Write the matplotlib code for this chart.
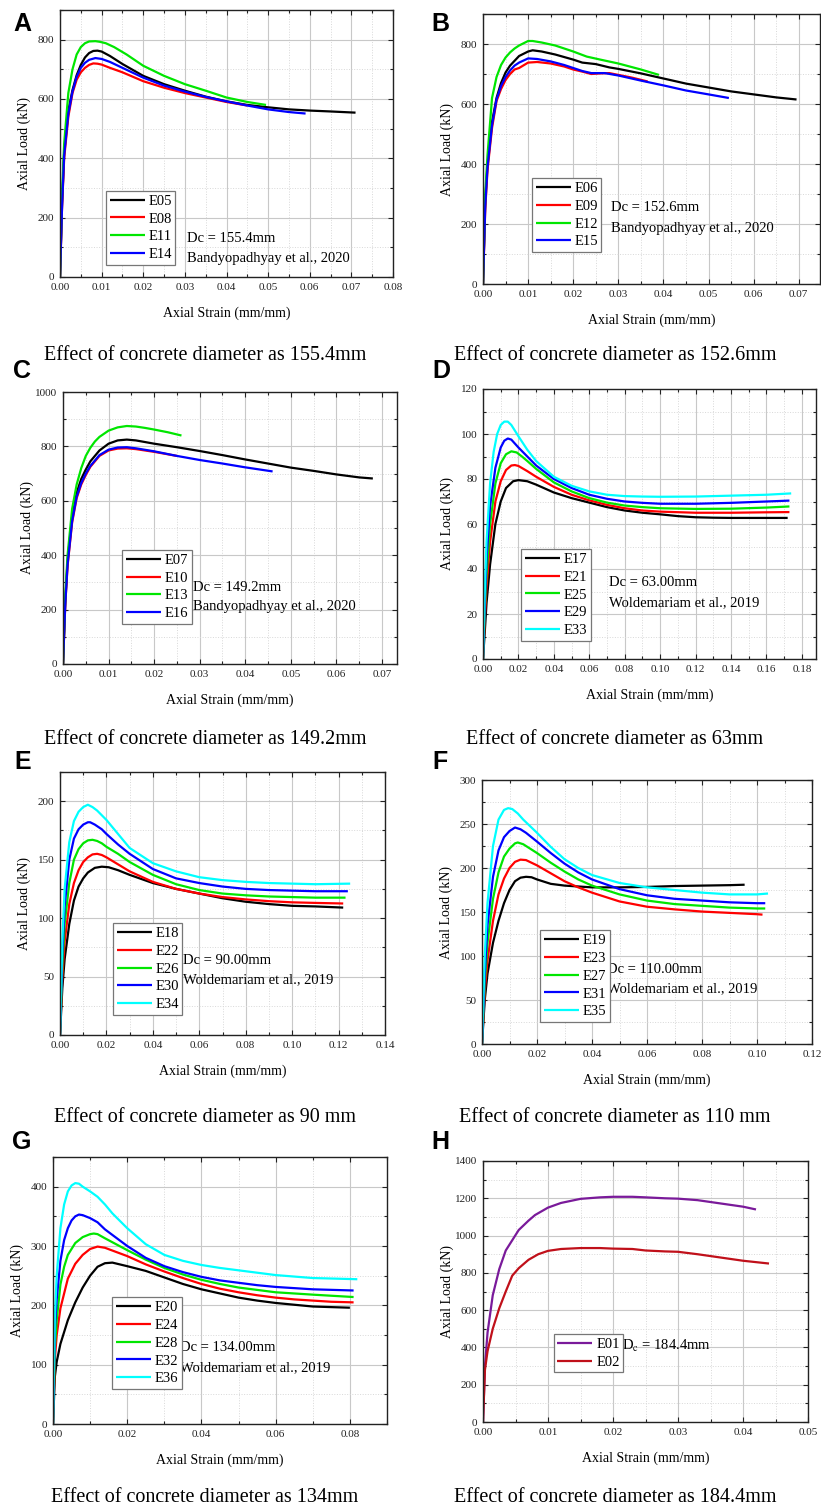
import matplotlib
matplotlib.use('Agg')
import matplotlib.pyplot as plt
from matplotlib.ticker import MultipleLocator, FormatStrFormatter

plt.rcParams['font.family'] = ['Liberation Serif', 'DejaVu Serif']
plt.rcParams['mathtext.fontset'] = 'stix'

FIG_W, FIG_H = 821, 1511   # px

# ---- data (strain mm/mm, load kN) ----
# A: Dc = 155.4mm
e05_x = [0, 0.0005, 0.001, 0.002, 0.003, 0.004, 0.005, 0.006, 0.007, 0.008, 0.009, 0.01, 0.012, 0.015,
         0.02, 0.025, 0.03, 0.035, 0.04, 0.045, 0.05, 0.055, 0.06, 0.065, 0.071]
e05_y = [0, 250, 420, 560, 630, 680, 715, 740, 755, 762, 763, 760, 745, 718,
         678, 650, 628, 608, 592, 580, 572, 565, 561, 558, 554]
e08_x = [0, 0.0005, 0.001, 0.002, 0.003, 0.004, 0.005, 0.006, 0.007, 0.008, 0.009, 0.01, 0.012, 0.015,
         0.02, 0.025, 0.03, 0.035, 0.04, 0.045]
e08_y = [0, 240, 400, 540, 620, 665, 690, 705, 715, 720, 719, 716, 705, 690,
         660, 638, 620, 605, 590, 578]
e11_x = [0, 0.0005, 0.001, 0.002, 0.003, 0.004, 0.005, 0.006, 0.007, 0.0085, 0.0095, 0.011, 0.013, 0.016,
         0.02, 0.025, 0.03, 0.035, 0.04, 0.045, 0.0495]
e11_y = [0, 280, 450, 620, 700, 750, 775, 788, 794, 795, 793, 788, 775, 750,
         712, 678, 650, 628, 605, 590, 580]
e14_x = [0, 0.0005, 0.001, 0.002, 0.003, 0.004, 0.005, 0.006, 0.007, 0.0085, 0.01, 0.012, 0.015,
         0.02, 0.025, 0.03, 0.035, 0.04, 0.045, 0.05, 0.055, 0.059]
e14_y = [0, 240, 410, 550, 625, 675, 705, 722, 732, 738, 735, 725, 705,
         672, 645, 625, 607, 592, 578, 565, 556, 551]

# B: Dc = 152.6mm
e06_x = [0, 0.0005, 0.001, 0.002, 0.003, 0.004, 0.005, 0.006, 0.008, 0.01, 0.011, 0.013, 0.016, 0.02, 0.022,
         0.025, 0.028, 0.03, 0.035, 0.04, 0.045, 0.05, 0.055, 0.06, 0.065, 0.0695]
e06_y = [0, 280, 400, 540, 620, 670, 705, 728, 760, 775, 779, 775, 765, 748, 738,
         733, 722, 717, 702, 685, 668, 655, 642, 632, 622, 615]
e09_x = [0, 0.0005, 0.001, 0.002, 0.003, 0.004, 0.005, 0.006, 0.007, 0.008, 0.01, 0.012, 0.015, 0.018,
         0.02, 0.022, 0.024, 0.026, 0.028, 0.03, 0.033, 0.0365]
e09_y = [0, 250, 380, 520, 610, 650, 680, 700, 715, 720, 738, 740, 735, 725,
         715, 708, 700, 702, 703, 697, 688, 675]
e12_x = [0, 0.0005, 0.001, 0.002, 0.003, 0.004, 0.005, 0.006, 0.007, 0.008, 0.01, 0.011, 0.013, 0.016,
         0.02, 0.023, 0.026, 0.03, 0.035, 0.039]
e12_y = [0, 300, 430, 620, 690, 730, 755, 772, 785, 795, 810, 810, 805, 795,
         775, 758, 748, 735, 715, 697]
e15_x = [0, 0.0005, 0.001, 0.002, 0.003, 0.004, 0.005, 0.006, 0.007, 0.008, 0.01, 0.012, 0.015, 0.018,
         0.02, 0.022, 0.024, 0.027, 0.03, 0.035, 0.04, 0.045, 0.05, 0.0545]
e15_y = [0, 260, 390, 530, 615, 660, 690, 712, 728, 738, 752, 750, 742, 730,
         720, 710, 703, 703, 695, 678, 662, 645, 632, 620]

# C: Dc = 149.2mm
e07_x = [0, 0.0005, 0.001, 0.002, 0.003, 0.004, 0.005, 0.006, 0.008, 0.01, 0.012, 0.014, 0.016, 0.02,
         0.025, 0.03, 0.035, 0.04, 0.045, 0.05, 0.055, 0.06, 0.065, 0.068]
e07_y = [0, 230, 380, 540, 630, 680, 715, 745, 785, 810, 822, 825, 822, 810,
         797, 783, 768, 752, 737, 722, 710, 697, 686, 682]
e10_x = [0, 0.0005, 0.001, 0.002, 0.003, 0.004, 0.005, 0.006, 0.008, 0.01, 0.012, 0.014, 0.016, 0.02, 0.025]
e10_y = [0, 220, 360, 520, 610, 660, 695, 725, 765, 785, 792, 793, 790, 780, 765]
e13_x = [0, 0.0005, 0.001, 0.002, 0.003, 0.004, 0.005, 0.006, 0.007, 0.008, 0.01, 0.012, 0.014, 0.016,
         0.018, 0.02, 0.023, 0.026]
e13_y = [0, 250, 400, 570, 660, 720, 765, 795, 818, 835, 858, 870, 875, 873,
         868, 862, 852, 840]
e16_x = [0, 0.0005, 0.001, 0.002, 0.003, 0.004, 0.005, 0.006, 0.008, 0.01, 0.012, 0.014, 0.016, 0.02,
         0.025, 0.03, 0.035, 0.04, 0.046]
e16_y = [0, 220, 365, 525, 615, 665, 700, 728, 768, 788, 796, 797, 793, 782,
         765, 750, 737, 723, 708]

# D: Dc = 63.00mm
e17_x = [0, 0.001, 0.002, 0.004, 0.007, 0.01, 0.013, 0.017, 0.02, 0.025, 0.03, 0.04, 0.05, 0.06, 0.07,
         0.08, 0.09, 0.1, 0.11, 0.12, 0.13, 0.14, 0.16, 0.172]
e17_y = [0, 12, 25, 42, 60, 70, 76, 79, 79.5, 79, 77.5, 74, 71.5, 69.5, 67.5,
         66, 65, 64.3, 63.5, 63, 62.8, 62.7, 62.7, 62.7]
e21_x = [0, 0.001, 0.002, 0.004, 0.007, 0.01, 0.013, 0.016, 0.018, 0.02, 0.025, 0.03, 0.04, 0.05, 0.06,
         0.07, 0.08, 0.09, 0.1, 0.12, 0.14, 0.16, 0.173]
e21_y = [0, 18, 32, 52, 70, 79, 84, 86, 86.2, 85.8, 83.5, 81, 76.5, 73, 70.5,
         68.5, 67, 66, 65.5, 65, 65, 65.2, 65.3]
e25_x = [0, 0.001, 0.002, 0.004, 0.007, 0.01, 0.013, 0.016, 0.019, 0.022, 0.025, 0.03, 0.04, 0.05, 0.06,
         0.07, 0.08, 0.09, 0.1, 0.12, 0.14, 0.16, 0.173]
e25_y = [0, 22, 38, 60, 78, 87, 91, 92.3, 91.8, 90, 88, 84.5, 78.5, 74.5, 71.5,
         69.5, 68.2, 67.5, 67, 66.7, 66.8, 67.3, 67.8]
e29_x = [0, 0.001, 0.002, 0.004, 0.007, 0.01, 0.012, 0.014, 0.016, 0.02, 0.025, 0.03, 0.04, 0.05, 0.06,
         0.07, 0.08, 0.09, 0.1, 0.12, 0.14, 0.16, 0.173]
e29_y = [0, 25, 45, 68, 85, 94, 97, 98, 97.5, 94, 90, 86, 80, 76, 73,
         71.2, 70, 69.4, 69, 69, 69.4, 70, 70.4]
e33_x = [0, 0.001, 0.002, 0.004, 0.006, 0.008, 0.01, 0.012, 0.014, 0.016, 0.02, 0.025, 0.03, 0.04, 0.05,
         0.06, 0.07, 0.08, 0.09, 0.1, 0.12, 0.14, 0.16, 0.174]
e33_y = [0, 30, 52, 78, 92, 100, 104, 105.5, 105.5, 104, 99, 93, 88, 81, 77,
         74.5, 73, 72.4, 72.2, 72.1, 72.2, 72.6, 73, 73.6]

# E: Dc = 90.00mm
e18_x = [0, 0.001, 0.002, 0.004, 0.006, 0.008, 0.01, 0.012, 0.015, 0.018, 0.021, 0.025, 0.03, 0.04, 0.05,
         0.06, 0.07, 0.08, 0.09, 0.1, 0.11, 0.122]
e18_y = [0, 40, 65, 95, 115, 127, 134, 139, 143, 144, 143.5, 141, 137, 130, 125,
         121, 117, 114, 112, 110.5, 110, 109]
e22_x = [0, 0.001, 0.002, 0.004, 0.006, 0.008, 0.01, 0.012, 0.014, 0.016, 0.018, 0.02, 0.025, 0.03, 0.04,
         0.05, 0.06, 0.07, 0.08, 0.09, 0.1, 0.11, 0.122]
e22_y = [0, 50, 80, 112, 130, 141, 148, 152, 154.5, 155, 154, 152, 146, 140, 131,
         125, 121, 118, 116, 114.5, 113.5, 113, 112.5]
e26_x = [0, 0.001, 0.002, 0.004, 0.006, 0.008, 0.01, 0.012, 0.014, 0.016, 0.018, 0.02, 0.025, 0.03, 0.04,
         0.05, 0.06, 0.07, 0.08, 0.09, 0.1, 0.11, 0.123]
e26_y = [0, 60, 95, 130, 150, 159, 164, 166.5, 167, 166, 164, 161, 155, 148, 137,
         129, 124, 121, 119.5, 118.5, 118, 117.5, 117.5]
e30_x = [0, 0.001, 0.002, 0.004, 0.006, 0.008, 0.01, 0.012, 0.013, 0.015, 0.018, 0.02, 0.025, 0.03, 0.04,
         0.05, 0.06, 0.07, 0.08, 0.09, 0.1, 0.11, 0.124]
e30_y = [0, 70, 110, 150, 168, 176, 180, 182, 182, 180, 176, 172, 163, 155, 142,
         134, 130, 127, 125, 124, 123.5, 123, 123]
e34_x = [0, 0.001, 0.002, 0.004, 0.006, 0.008, 0.01, 0.012, 0.014, 0.016, 0.02, 0.025, 0.03, 0.04, 0.05,
         0.06, 0.07, 0.08, 0.09, 0.1, 0.11, 0.125]
e34_y = [0, 80, 125, 165, 183, 191, 195, 197, 195, 192, 184, 172, 160, 147, 140,
         135, 132.5, 131, 130, 129.5, 129, 129.5]

# F: Dc = 110.00mm
e19_x = [0, 0.001, 0.002, 0.004, 0.006, 0.008, 0.01, 0.012, 0.014, 0.016, 0.018, 0.02, 0.025, 0.03, 0.035,
         0.04, 0.05, 0.06, 0.07, 0.08, 0.09, 0.0955]
e19_y = [0, 50, 80, 115, 140, 160, 175, 185, 189, 190, 189.5, 187, 182, 180, 179,
         178, 178, 178.5, 179.5, 180, 180.5, 181]
e23_x = [0, 0.001, 0.002, 0.004, 0.006, 0.008, 0.01, 0.012, 0.014, 0.016, 0.02, 0.025, 0.03, 0.035, 0.04,
         0.05, 0.06, 0.07, 0.08, 0.09, 0.1, 0.102]
e23_y = [0, 60, 95, 140, 170, 188, 200, 207, 209.5, 209, 203, 194, 185, 178, 172,
         162, 156, 153, 150.5, 149, 147.5, 147]
e27_x = [0, 0.001, 0.002, 0.004, 0.006, 0.008, 0.01, 0.012, 0.013, 0.015, 0.02, 0.025, 0.03, 0.035, 0.04,
         0.05, 0.06, 0.07, 0.08, 0.09, 0.1, 0.103]
e27_y = [0, 70, 115, 165, 195, 213, 222, 228, 229, 227, 217, 206, 196, 187, 180,
         170, 163, 159, 157, 155, 154, 154]
e31_x = [0, 0.001, 0.002, 0.004, 0.006, 0.008, 0.01, 0.012, 0.014, 0.016, 0.02, 0.025, 0.03, 0.035, 0.04,
         0.05, 0.06, 0.07, 0.08, 0.09, 0.1, 0.103]
e31_y = [0, 80, 135, 190, 220, 235, 242, 246, 244, 240, 230, 217, 205, 195, 187,
         176, 169, 165, 163, 161, 160, 160]
e35_x = [0, 0.001, 0.002, 0.004, 0.006, 0.008, 0.0095, 0.011, 0.013, 0.015, 0.02, 0.025, 0.03, 0.035, 0.04,
         0.05, 0.06, 0.07, 0.08, 0.09, 0.1, 0.104]
e35_y = [0, 100, 160, 225, 255, 266, 268, 267, 262, 255, 240, 224, 210, 200, 192,
         183, 178, 175, 172, 170, 170, 171]

# G: Dc = 134.00mm
e20_x = [0, 0.0005, 0.001, 0.002, 0.004, 0.006, 0.008, 0.01, 0.012, 0.014, 0.016, 0.02, 0.025, 0.03, 0.035,
         0.04, 0.045, 0.05, 0.055, 0.06, 0.065, 0.07, 0.075, 0.08]
e20_y = [0, 80, 105, 135, 175, 205, 230, 250, 265, 271, 272, 266, 258, 247, 236,
         227, 220, 213, 208, 204, 201, 198, 197, 196]
e24_x = [0, 0.0005, 0.001, 0.002, 0.004, 0.006, 0.008, 0.01, 0.012, 0.014, 0.02, 0.025, 0.03, 0.035, 0.04,
         0.045, 0.05, 0.055, 0.06, 0.065, 0.07, 0.075, 0.081]
e24_y = [0, 110, 150, 195, 245, 270, 285, 295, 299, 297, 283, 269, 257, 246, 236,
         228, 222, 217, 213, 210, 208, 206, 205]
e28_x = [0, 0.0005, 0.001, 0.002, 0.003, 0.004, 0.006, 0.008, 0.01, 0.011, 0.012, 0.014, 0.02, 0.025, 0.03,
         0.035, 0.04, 0.045, 0.05, 0.055, 0.06, 0.07, 0.081]
e28_y = [0, 130, 175, 235, 265, 285, 305, 315, 320, 321, 320, 313, 293, 277, 263,
         252, 243, 236, 230, 226, 222, 218, 214]
e32_x = [0, 0.0005, 0.001, 0.002, 0.003, 0.004, 0.005, 0.006, 0.007, 0.008, 0.01, 0.012, 0.014, 0.02, 0.025,
         0.03, 0.035, 0.04, 0.045, 0.05, 0.055, 0.06, 0.07, 0.081]
e32_y = [0, 160, 210, 275, 310, 330, 343, 350, 353, 352, 347, 340, 328, 300, 280,
         266, 256, 248, 242, 238, 234, 231, 227, 225]
e36_x = [0, 0.0005, 0.001, 0.002, 0.003, 0.004, 0.005, 0.006, 0.007, 0.008, 0.01, 0.012, 0.014, 0.016, 0.02,
         0.025, 0.03, 0.035, 0.04, 0.045, 0.05, 0.055, 0.06, 0.07, 0.082]
e36_y = [0, 180, 250, 330, 370, 392, 402, 406, 405, 400, 392, 383, 370, 355, 330,
         303, 285, 275, 268, 263, 259, 255, 251, 246, 244]

# H: Dc = 184.4mm
e01_x = [0, 0.0003, 0.0007, 0.0015, 0.0025, 0.0035, 0.0045, 0.0055, 0.007, 0.008, 0.01, 0.012, 0.015,
         0.018, 0.02, 0.023, 0.025, 0.028, 0.03, 0.033, 0.036, 0.04, 0.042]
e01_y = [0, 300, 480, 680, 820, 920, 975, 1030, 1080, 1110, 1150, 1175, 1197,
         1205, 1208, 1208, 1205, 1200, 1198, 1190, 1175, 1155, 1140]
e02_x = [0, 0.0003, 0.0007, 0.0015, 0.0025, 0.0035, 0.0045, 0.0055, 0.007, 0.0085, 0.01, 0.012, 0.015,
         0.018, 0.02, 0.023, 0.025, 0.028, 0.03, 0.033, 0.036, 0.04, 0.044]
e02_y = [0, 280, 380, 500, 610, 700, 785, 825, 870, 900, 918, 928, 933,
         933, 930, 928, 920, 915, 913, 900, 885, 865, 850]

BLACK, RED, GREEN, BLUE, CYAN = '#000000', '#ff0000', '#00e600', '#0000ff', '#00ffff'
PURPLE, DARKRED = '#7a1a9a', '#c0101a'

captions = ['Effect of concrete diameter as 155.4mm', 'Effect of concrete diameter as 152.6mm',
            'Effect of concrete diameter as 149.2mm', 'Effect of concrete diameter as 63mm',
            'Effect of concrete diameter as 90 mm', 'Effect of concrete diameter as 110 mm',
            'Effect of concrete diameter as 134mm', 'Effect of concrete diameter as 184.4mm']

# panel layout: letter, axes rect in px (left, top, right, bottom), limits, tick steps,
# curves, legend anchor, annotation lines
panels = [
    dict(letter='A', rect=(60, 10, 393, 277), xlim=0.08, ylim=900, xs=(0.01, 0.005), ys=(200, 100),
         curves=[('E05', e05_x, e05_y, BLACK), ('E08', e08_x, e08_y, RED),
                 ('E11', e11_x, e11_y, GREEN), ('E14', e14_x, e14_y, BLUE)],
         leg=(0.138, 0.045), txt=(0.38, 0.146, 0.071),
         notes=['Dc = 155.4mm', 'Bandyopadhyay et al., 2020'], cap=(205, 355)),
    dict(letter='B', rect=(483, 14, 820, 284), xlim=0.0747, ylim=900, xs=(0.01, 0.005), ys=(200, 100),
         curves=[('E06', e06_x, e06_y, BLACK), ('E09', e09_x, e09_y, RED),
                 ('E12', e12_x, e12_y, GREEN), ('E15', e15_x, e15_y, BLUE)],
         leg=(0.145, 0.118), txt=(0.379, 0.285, 0.207),
         notes=['Dc = 152.6mm', 'Bandyopadhyay et al., 2020'], cap=(615, 355)),
    dict(letter='C', rect=(63, 392, 397, 664), xlim=0.0733, ylim=1000, xs=(0.01, 0.005), ys=(200, 100),
         curves=[('E07', e07_x, e07_y, BLACK), ('E10', e10_x, e10_y, RED),
                 ('E13', e13_x, e13_y, GREEN), ('E16', e16_x, e16_y, BLUE)],
         leg=(0.177, 0.147), txt=(0.389, 0.283, 0.21),
         notes=['Dc = 149.2mm', 'Bandyopadhyay et al., 2020'], cap=(205, 740)),
    dict(letter='D', rect=(483, 389, 816, 659), xlim=0.188, ylim=120, xs=(0.02, 0.01), ys=(20, 10),
         curves=[('E17', e17_x, e17_y, BLACK), ('E21', e21_x, e21_y, RED), ('E25', e25_x, e25_y, GREEN),
                 ('E29', e29_x, e29_y, BLUE), ('E33', e33_x, e33_y, CYAN)],
         leg=(0.114, 0.067), txt=(0.378, 0.285, 0.207),
         notes=['Dc = 63.00mm', 'Woldemariam et al., 2019'], cap=(615, 740)),
    dict(letter='E', rect=(60, 772, 385, 1035), xlim=0.14, ylim=225, xs=(0.02, 0.01), ys=(50, 25),
         curves=[('E18', e18_x, e18_y, BLACK), ('E22', e22_x, e22_y, RED), ('E26', e26_x, e26_y, GREEN),
                 ('E30', e30_x, e30_y, BLUE), ('E34', e34_x, e34_y, CYAN)],
         leg=(0.163, 0.076), txt=(0.378, 0.285, 0.209),
         notes=['Dc = 90.00mm', 'Woldemariam et al., 2019'], cap=(205, 1118)),
    dict(letter='F', rect=(482, 780, 812, 1044), xlim=0.12, ylim=300, xs=(0.02, 0.01), ys=(50, 25),
         curves=[('E19', e19_x, e19_y, BLACK), ('E23', e23_x, e23_y, RED), ('E27', e27_x, e27_y, GREEN),
                 ('E31', e31_x, e31_y, BLUE), ('E35', e35_x, e35_y, CYAN)],
         leg=(0.176, 0.083), txt=(0.379, 0.284, 0.208),
         notes=['Dc = 110.00mm', 'Woldemariam et al., 2019'], cap=(615, 1118)),
    dict(letter='G', rect=(53, 1157, 387, 1424), xlim=0.09, ylim=450, xs=(0.02, 0.01), ys=(100, 50),
         curves=[('E20', e20_x, e20_y, BLACK), ('E24', e24_x, e24_y, RED), ('E28', e28_x, e28_y, GREEN),
                 ('E32', e32_x, e32_y, BLUE), ('E36', e36_x, e36_y, CYAN)],
         leg=(0.177, 0.131), txt=(0.38, 0.285, 0.21),
         notes=['Dc = 134.00mm', 'Woldemariam et al., 2019'], cap=(205, 1497)),
    dict(letter='H', rect=(483, 1161, 808, 1422), xlim=0.05, ylim=1400, xs=(0.01, 0.005), ys=(200, 100),
         curves=[('E01', e01_x, e01_y, PURPLE), ('E02', e02_x, e02_y, DARKRED)],
         leg=(0.218, 0.19), txt=(0.428, 0.29, None),
         notes=[r'D$_\mathrm{c}$ = 184.4mm'], cap=(615, 1497)),
]


def px_rect(r):
    l, t, rr, b = r
    return [l / FIG_W, 1 - b / FIG_H, (rr - l) / FIG_W, (b - t) / FIG_H]


def draw_panel(fig, p):
    ax = fig.add_axes(px_rect(p['rect']))
    for name, xs, ys, col in p['curves']:
        ax.plot(xs, ys, color=col, lw=1.6, label=name, solid_capstyle='butt')
    ax.set_xlim(0, p['xlim'])
    ax.set_ylim(0, p['ylim'])
    ax.xaxis.set_major_locator(MultipleLocator(p['xs'][0]))
    ax.xaxis.set_minor_locator(MultipleLocator(p['xs'][1]))
    ax.yaxis.set_major_locator(MultipleLocator(p['ys'][0]))
    ax.yaxis.set_minor_locator(MultipleLocator(p['ys'][1]))
    ax.xaxis.set_major_formatter(FormatStrFormatter('%.2f'))
    ax.yaxis.set_major_formatter(FormatStrFormatter('%d'))
    ax.grid(which='major', color='#c8c8c8', lw=0.8, ls='-')
    ax.grid(which='minor', color='#d8d8d8', lw=0.7, ls=':')
    ax.set_axisbelow(True)
    ax.tick_params(which='both', direction='in', top=True, right=True, colors='#222222',
                   labelsize=8, pad=4, width=0.8)
    ax.tick_params(which='major', length=3.5)
    ax.tick_params(which='minor', length=2)
    for s in ax.spines.values():
        s.set_color('#222222')
        s.set_linewidth(1.0)

    # axis labels, placed in px offsets from the axes
    l, t, rr, b = p['rect']
    w, h = rr - l, b - t
    ax.set_xlabel('Axial Strain (mm/mm)', fontsize=10)
    ax.set_ylabel('Axial Load (kN)', fontsize=10)
    ax.xaxis.label.set_va('center')
    ax.yaxis.label.set_va('center')
    ax.xaxis.set_label_coords(0.5, -36 / h)
    ax.yaxis.set_label_coords(-36 / w, 0.5)

    leg = ax.legend(loc='lower left', bbox_to_anchor=p['leg'], fontsize=10.5, frameon=True,
                    fancybox=False, edgecolor='#777777', framealpha=1, borderpad=0.25,
                    labelspacing=0.32, handlelength=2.4, handletextpad=0.25, borderaxespad=0)
    leg.get_frame().set_linewidth(0.9)

    tx, ty1, ty2 = p['txt']
    ax.text(tx, ty1, p['notes'][0], transform=ax.transAxes, fontsize=10.5, va='center', ha='left')
    if ty2 is not None:
        ax.text(tx, ty2, p['notes'][1], transform=ax.transAxes, fontsize=10.5, va='center', ha='left')
    return ax


fig = plt.figure(figsize=(FIG_W / 100, FIG_H / 100), dpi=100)
fig.patch.set_facecolor('white')

letter_pos = [(22, 24), (440, 24), (22, 371), (441, 371), (23, 762), (440, 762), (22, 1142), (440, 1142)]

for i, p in enumerate(panels):
    draw_panel(fig, p)
    lx, ly = letter_pos[i]
    fig.text(lx / FIG_W, 1 - ly / FIG_H, p['letter'], fontsize=18, fontweight='bold',
             family=['Liberation Sans', 'DejaVu Sans'], ha='center', va='center')
    cx, cy = p['cap']
    fig.text(cx / FIG_W, 1 - cy / FIG_H, captions[i], fontsize=14.5, ha='center', va='center')

fig.savefig('out.png', dpi=100)
